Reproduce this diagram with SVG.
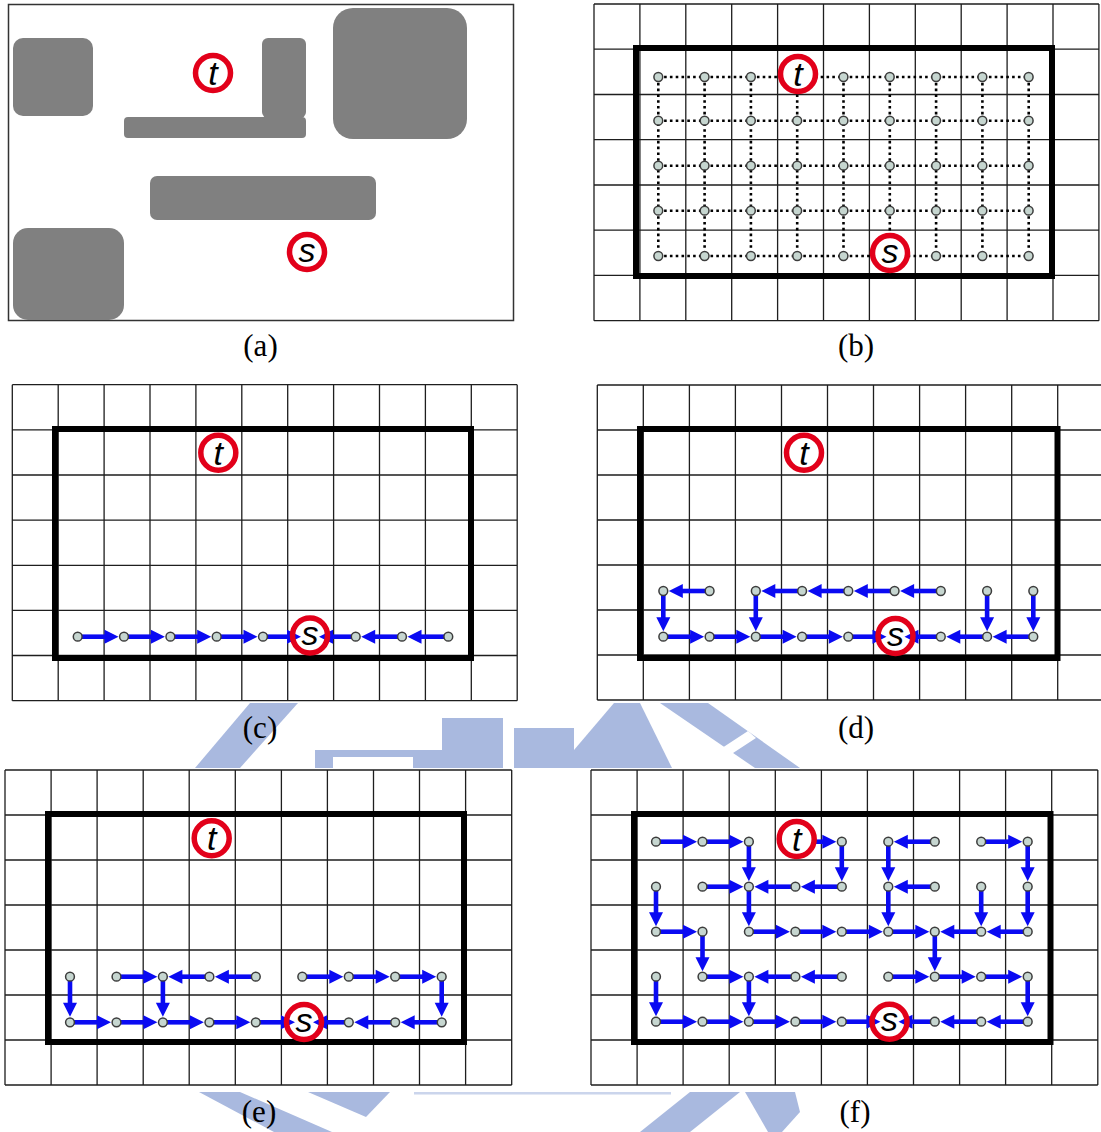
<svg xmlns="http://www.w3.org/2000/svg" xmlns:xlink="http://www.w3.org/1999/xlink" width="1101" height="1132" viewBox="0 0 1101 1132">
<style>
.grid{fill:none;stroke:#1e1e1e;stroke-width:1.3}
.bnd{fill:none;stroke:#000;stroke-width:6}
.obs{fill:#808080}
.dot{fill:none;stroke:#000;stroke-width:2.6;stroke-dasharray:2.6 3.2}
.e{fill:none;stroke:#0a0af2;stroke-width:4.6;marker-end:url(#ah)}
.ring{fill:#fff;stroke:#e2001a;stroke-width:5.5}
.ring2{fill:none;stroke:#e2001a;stroke-width:5.5}
.lt{font-family:"Liberation Sans",Arial,sans-serif;font-style:italic;font-size:34px;text-anchor:middle;fill:#000}
.cap{font-family:"Liberation Serif","Times New Roman",serif;font-size:31px;text-anchor:middle;fill:#000}
.wm{fill:#a9b9df}
.bg{fill:#fff}
</style>
<defs>
<marker id="ah" markerUnits="userSpaceOnUse" markerWidth="15" markerHeight="15" refX="1" refY="7" orient="auto" overflow="visible">
<path d="M0,0 L14,7 L0,14 z" fill="#0a0af2"/>
</marker>
<circle id="nd" r="4.4" fill="#c6d6d0" stroke="#3c3c3c" stroke-width="1.5"/>
</defs>
<rect width="1101" height="1132" fill="#fff"/>

<g id="watermark">
<polygon class="wm" points="195,768 250,703 298,703 240,768"/>
<rect class="wm" x="315" y="750" width="127" height="18"/>
<rect x="333" y="757" width="80" height="11" fill="#fff"/>
<rect class="wm" x="442" y="718" width="61" height="50"/>
<rect class="wm" x="514" y="728" width="60" height="40"/>
<polygon class="wm" points="574,768 574,750 614,703 640,703 672,768"/>
<polygon class="wm" points="660,703 708,703 800,768 755,768"/>
<polygon points="722,748 748,731 756,738 730,755" fill="#fff"/>
<polygon class="wm" points="199,1092 240,1092 332,1132 274,1132"/>
<polygon class="wm" points="308,1092 390,1092 366,1117"/>
<rect class="wm" x="414" y="1092" width="257" height="2.5" opacity="0.6"/>
<polygon class="wm" points="690,1092 740,1092 690,1132 640,1132"/>
<polygon class="wm" points="745,1092 795,1092 800,1112 782,1132 768,1132"/>
</g>

<!-- Panel (a) -->
<g id="panel-a">
<rect x="8.5" y="4.5" width="505" height="316" fill="#fff" stroke="#333" stroke-width="1.5"/>
<g id="a-obstacles">
<rect class="obs" x="13" y="38" width="80" height="78" rx="10"/>
<rect class="obs" x="262" y="38" width="44" height="80" rx="6"/>
<rect class="obs" x="124" y="117" width="182" height="21" rx="4"/>
<rect class="obs" x="333" y="8" width="134" height="131" rx="20"/>
<rect class="obs" x="150" y="176" width="226" height="44" rx="7"/>
<rect class="obs" x="13" y="228" width="111" height="92" rx="15"/>
</g>
<g id="a-t"><circle class="ring" cx="213" cy="73" r="17.5"/><text class="lt" x="213" y="85">t</text></g>
<g id="a-s"><circle class="ring" cx="307" cy="252" r="17.5"/><text class="lt" x="307" y="261.5">s</text></g>
</g>
<text class="cap" x="260.5" y="356">(a)</text>

<!-- Panel (b) -->
<g id="panel-b">
<path class="grid" d="M594,4V320.7M639.9,4V320.7M685.8,4V320.7M731.7,4V320.7M777.6,4V320.7M823.5,4V320.7M869.4,4V320.7M915.3,4V320.7M961.2,4V320.7M1007.1,4V320.7M1053,4V320.7M1098.9,4V320.7M594,4H1098.9M594,49.2H1098.9M594,94.5H1098.9M594,139.7H1098.9M594,185H1098.9M594,230.2H1098.9M594,275.4H1098.9M594,320.7H1098.9"/>
<rect class="bnd" x="636" y="48" width="416" height="228"/>
<g id="b-edges">
<path class="dot" d="M658.3,77H1028.7M658.3,120.7H1028.7M658.3,165.7H1028.7M658.3,210.7H1028.7M658.3,256H1028.7M658.3,77V256M704.6,77V256M750.9,77V256M797.2,77V256M843.5,77V256M889.8,77V256M936.1,77V256M982.4,77V256M1028.7,77V256"/>
</g>
<g id="b-nodes">
<use id="b-n00" href="#nd" x="658.3" y="77"/><use id="b-n01" href="#nd" x="704.6" y="77"/><use id="b-n02" href="#nd" x="750.9" y="77"/><use id="b-n04" href="#nd" x="843.5" y="77"/><use id="b-n05" href="#nd" x="889.8" y="77"/><use id="b-n06" href="#nd" x="936.1" y="77"/><use id="b-n07" href="#nd" x="982.4" y="77"/><use id="b-n08" href="#nd" x="1028.7" y="77"/>
<use id="b-n10" href="#nd" x="658.3" y="120.7"/><use id="b-n11" href="#nd" x="704.6" y="120.7"/><use id="b-n12" href="#nd" x="750.9" y="120.7"/><use id="b-n13" href="#nd" x="797.2" y="120.7"/><use id="b-n14" href="#nd" x="843.5" y="120.7"/><use id="b-n15" href="#nd" x="889.8" y="120.7"/><use id="b-n16" href="#nd" x="936.1" y="120.7"/><use id="b-n17" href="#nd" x="982.4" y="120.7"/><use id="b-n18" href="#nd" x="1028.7" y="120.7"/>
<use id="b-n20" href="#nd" x="658.3" y="165.7"/><use id="b-n21" href="#nd" x="704.6" y="165.7"/><use id="b-n22" href="#nd" x="750.9" y="165.7"/><use id="b-n23" href="#nd" x="797.2" y="165.7"/><use id="b-n24" href="#nd" x="843.5" y="165.7"/><use id="b-n25" href="#nd" x="889.8" y="165.7"/><use id="b-n26" href="#nd" x="936.1" y="165.7"/><use id="b-n27" href="#nd" x="982.4" y="165.7"/><use id="b-n28" href="#nd" x="1028.7" y="165.7"/>
<use id="b-n30" href="#nd" x="658.3" y="210.7"/><use id="b-n31" href="#nd" x="704.6" y="210.7"/><use id="b-n32" href="#nd" x="750.9" y="210.7"/><use id="b-n33" href="#nd" x="797.2" y="210.7"/><use id="b-n34" href="#nd" x="843.5" y="210.7"/><use id="b-n35" href="#nd" x="889.8" y="210.7"/><use id="b-n36" href="#nd" x="936.1" y="210.7"/><use id="b-n37" href="#nd" x="982.4" y="210.7"/><use id="b-n38" href="#nd" x="1028.7" y="210.7"/>
<use id="b-n40" href="#nd" x="658.3" y="256"/><use id="b-n41" href="#nd" x="704.6" y="256"/><use id="b-n42" href="#nd" x="750.9" y="256"/><use id="b-n43" href="#nd" x="797.2" y="256"/><use id="b-n44" href="#nd" x="843.5" y="256"/><use id="b-n46" href="#nd" x="936.1" y="256"/><use id="b-n47" href="#nd" x="982.4" y="256"/><use id="b-n48" href="#nd" x="1028.7" y="256"/>
</g>
<g id="b-t"><circle class="ring" cx="798" cy="74" r="17.5"/><text class="lt" x="798" y="86">t</text></g>
<g id="b-s"><circle class="ring" cx="890" cy="253" r="17.5"/><text class="lt" x="890" y="262.5">s</text></g>
</g>
<text class="cap" x="856" y="356">(b)</text>

<!-- Panel (c) -->
<g id="panel-c">
<rect class="bg" x="12.3" y="384.7" width="504.9" height="316"/>
<path class="grid" d="M12.3,384.7V700.7M58.2,384.7V700.7M104.1,384.7V700.7M150,384.7V700.7M195.9,384.7V700.7M241.8,384.7V700.7M287.7,384.7V700.7M333.6,384.7V700.7M379.5,384.7V700.7M425.4,384.7V700.7M471.3,384.7V700.7M517.2,384.7V700.7M12.3,384.7H517.2M12.3,429.8H517.2M12.3,475H517.2M12.3,520.1H517.2M12.3,565.3H517.2M12.3,610.4H517.2M12.3,655.5H517.2M12.3,700.7H517.2"/>
<rect class="bnd" x="55" y="429" width="416" height="229"/>
<g id="c-edges">
<path class="e" d="M77.7,636.7H105.5"/><path class="e" d="M124,636.7H151.9"/><path class="e" d="M170.4,636.7H198.2"/><path class="e" d="M216.7,636.7H244.5"/><path class="e" d="M263,636.7H288"/>
<path class="e" d="M448.3,636.7H420.5"/><path class="e" d="M402,636.7H374.2"/><path class="e" d="M355.7,636.7H332"/>
</g>
<g id="c-nodes">
<use id="c-n0" href="#nd" x="77.7" y="636.7"/><use id="c-n1" href="#nd" x="124" y="636.7"/><use id="c-n2" href="#nd" x="170.4" y="636.7"/><use id="c-n3" href="#nd" x="216.7" y="636.7"/><use id="c-n4" href="#nd" x="263" y="636.7"/><use id="c-n6" href="#nd" x="355.7" y="636.7"/><use id="c-n7" href="#nd" x="402" y="636.7"/><use id="c-n8" href="#nd" x="448.3" y="636.7"/>
</g>
<g id="c-t"><circle class="ring" cx="218.3" cy="452.7" r="17.5"/><text class="lt" x="218.3" y="464.7">t</text></g>
<g id="c-s"><circle class="ring2" cx="310" cy="635.5" r="17.5"/><text class="lt" x="310" y="645">s</text></g>
</g>
<text class="cap" x="260" y="738">(c)</text>

<!-- Panel (d) -->
<g id="panel-d">
<rect class="bg" x="597.3" y="385" width="506" height="315"/>
<path class="grid" d="M597.3,385V700M643.3,385V700M689.4,385V700M735.4,385V700M781.5,385V700M827.5,385V700M873.5,385V700M919.6,385V700M965.6,385V700M1011.7,385V700M1057.7,385V700M1103.7,385V700M597.3,385H1103.7M597.3,430H1103.7M597.3,475H1103.7M597.3,520H1103.7M597.3,565H1103.7M597.3,610H1103.7M597.3,655H1103.7M597.3,700H1103.7"/>
<rect class="bnd" x="640" y="429" width="417.5" height="229"/>
<g id="d-edges">
<path class="e" d="M709.6,591H681.8"/><path class="e" d="M663.3,591V618.2"/>
<path class="e" d="M940.8,591H913.1"/><path class="e" d="M894.6,591H866.8"/><path class="e" d="M848.3,591H820.6"/><path class="e" d="M802.1,591H774.3"/><path class="e" d="M755.8,591V618.2"/>
<path class="e" d="M987.1,591V618.2"/><path class="e" d="M1033.3,591V618.2"/>
<path class="e" d="M663.3,636.7H691.1"/><path class="e" d="M709.6,636.7H737.3"/><path class="e" d="M755.8,636.7H783.6"/><path class="e" d="M802.1,636.7H829.8"/><path class="e" d="M848.3,636.7H873.5"/>
<path class="e" d="M1033.3,636.7H1005.6"/><path class="e" d="M987.1,636.7H959.3"/><path class="e" d="M940.8,636.7H917.5"/>
</g>
<g id="d-nodes">
<use id="d-n00" href="#nd" x="663.3" y="591"/><use id="d-n01" href="#nd" x="709.6" y="591"/><use id="d-n02" href="#nd" x="755.8" y="591"/><use id="d-n03" href="#nd" x="802.1" y="591"/><use id="d-n04" href="#nd" x="848.3" y="591"/><use id="d-n05" href="#nd" x="894.6" y="591"/><use id="d-n06" href="#nd" x="940.8" y="591"/><use id="d-n07" href="#nd" x="987.1" y="591"/><use id="d-n08" href="#nd" x="1033.3" y="591"/>
<use id="d-n10" href="#nd" x="663.3" y="636.7"/><use id="d-n11" href="#nd" x="709.6" y="636.7"/><use id="d-n12" href="#nd" x="755.8" y="636.7"/><use id="d-n13" href="#nd" x="802.1" y="636.7"/><use id="d-n14" href="#nd" x="848.3" y="636.7"/><use id="d-n16" href="#nd" x="940.8" y="636.7"/><use id="d-n17" href="#nd" x="987.1" y="636.7"/><use id="d-n18" href="#nd" x="1033.3" y="636.7"/>
</g>
<g id="d-t"><circle class="ring" cx="804" cy="452.7" r="17.5"/><text class="lt" x="804" y="464.7">t</text></g>
<g id="d-s"><circle class="ring2" cx="895.5" cy="636" r="17.5"/><text class="lt" x="895.5" y="645.5">s</text></g>
</g>
<text class="cap" x="856" y="738">(d)</text>

<!-- Panel (e) -->
<g id="panel-e">
<rect class="bg" x="5" y="770" width="506.7" height="315"/>
<path class="grid" d="M5,770V1085M51.1,770V1085M97.1,770V1085M143.2,770V1085M189.2,770V1085M235.3,770V1085M281.4,770V1085M327.4,770V1085M373.5,770V1085M419.5,770V1085M465.6,770V1085M511.7,770V1085M5,770H511.7M5,815H511.7M5,860H511.7M5,905H511.7M5,950H511.7M5,995H511.7M5,1040H511.7M5,1085H511.7"/>
<rect class="bnd" x="48" y="814" width="416" height="228"/>
<g id="e-edges">
<path class="e" d="M70,976.7V1003.8"/><path class="e" d="M116.5,976.7H144.4"/><path class="e" d="M209.4,976.7H181.4"/><path class="e" d="M255.8,976.7H227.9"/><path class="e" d="M162.9,976.7V1003.8"/>
<path class="e" d="M302.3,976.7H330.3"/><path class="e" d="M348.8,976.7H376.7"/><path class="e" d="M395.2,976.7H423.2"/><path class="e" d="M441.7,976.7V1003.8"/>
<path class="e" d="M70,1022.3H98"/><path class="e" d="M116.5,1022.3H144.4"/><path class="e" d="M162.9,1022.3H190.9"/><path class="e" d="M209.4,1022.3H237.3"/><path class="e" d="M255.8,1022.3H282"/>
<path class="e" d="M441.7,1022.3H413.7"/><path class="e" d="M395.2,1022.3H367.3"/><path class="e" d="M348.8,1022.3H326"/>
</g>
<g id="e-nodes">
<use id="e-n00" href="#nd" x="70" y="976.7"/><use id="e-n01" href="#nd" x="116.5" y="976.7"/><use id="e-n02" href="#nd" x="162.9" y="976.7"/><use id="e-n03" href="#nd" x="209.4" y="976.7"/><use id="e-n04" href="#nd" x="255.8" y="976.7"/><use id="e-n05" href="#nd" x="302.3" y="976.7"/><use id="e-n06" href="#nd" x="348.8" y="976.7"/><use id="e-n07" href="#nd" x="395.2" y="976.7"/><use id="e-n08" href="#nd" x="441.7" y="976.7"/>
<use id="e-n10" href="#nd" x="70" y="1022.3"/><use id="e-n11" href="#nd" x="116.5" y="1022.3"/><use id="e-n12" href="#nd" x="162.9" y="1022.3"/><use id="e-n13" href="#nd" x="209.4" y="1022.3"/><use id="e-n14" href="#nd" x="255.8" y="1022.3"/><use id="e-n16" href="#nd" x="348.8" y="1022.3"/><use id="e-n17" href="#nd" x="395.2" y="1022.3"/><use id="e-n18" href="#nd" x="441.7" y="1022.3"/>
</g>
<g id="e-t"><circle class="ring" cx="211.7" cy="838.3" r="17.5"/><text class="lt" x="211.7" y="850.3">t</text></g>
<g id="e-s"><circle class="ring2" cx="304" cy="1022" r="17.5"/><text class="lt" x="304" y="1031.5">s</text></g>
</g>
<text class="cap" x="259" y="1122">(e)</text>

<!-- Panel (f) -->
<g id="panel-f">
<rect class="bg" x="591" y="770" width="506.8" height="315"/>
<path class="grid" d="M591,770V1085M637.1,770V1085M683.1,770V1085M729.2,770V1085M775.3,770V1085M821.4,770V1085M867.4,770V1085M913.5,770V1085M959.6,770V1085M1005.6,770V1085M1051.7,770V1085M1097.8,770V1085M591,770H1097.8M591,815H1097.8M591,860H1097.8M591,905H1097.8M591,950H1097.8M591,995H1097.8M591,1040H1097.8M591,1085H1097.8"/>
<rect class="bnd" x="634" y="814" width="416.5" height="228"/>
<g id="f-edges">
<path class="e" d="M656,841.7H684"/><path class="e" d="M702.5,841.7H730.4"/><path class="e" d="M748.9,841.7V868.2"/><path class="e" d="M815,841.7H823.3"/><path class="e" d="M841.8,841.7V868.2"/><path class="e" d="M934.8,841.7H906.8"/><path class="e" d="M888.3,841.7V868.2"/><path class="e" d="M981.2,841.7H1009.2"/><path class="e" d="M1027.7,841.7V868.2"/>
<path class="e" d="M702.5,886.7H730.4"/><path class="e" d="M795.4,886.7H767.4"/><path class="e" d="M841.8,886.7H813.9"/><path class="e" d="M748.9,886.7V913.2"/><path class="e" d="M656,886.7V913.2"/><path class="e" d="M934.8,886.7H906.8"/><path class="e" d="M888.3,886.7V913.2"/><path class="e" d="M981.2,886.7V913.2"/><path class="e" d="M1027.7,886.7V913.2"/>
<path class="e" d="M656,931.7H684"/><path class="e" d="M702.5,931.7V958.2"/><path class="e" d="M748.9,931.7H776.9"/><path class="e" d="M795.4,931.7H823.3"/><path class="e" d="M841.8,931.7H869.8"/><path class="e" d="M888.3,931.7H916.3"/><path class="e" d="M981.2,931.7H953.3"/><path class="e" d="M1027.7,931.7H999.7"/><path class="e" d="M934.8,931.7V958.2"/>
<path class="e" d="M656,976.7V1003.2"/><path class="e" d="M702.5,976.7H730.4"/><path class="e" d="M795.4,976.7H767.4"/><path class="e" d="M841.8,976.7H813.9"/><path class="e" d="M748.9,976.7V1003.2"/><path class="e" d="M888.3,976.7H916.3"/><path class="e" d="M934.8,976.7H962.7"/><path class="e" d="M981.2,976.7H1009.2"/><path class="e" d="M1027.7,976.7V1003.2"/>
<path class="e" d="M656,1021.7H684"/><path class="e" d="M702.5,1021.7H730.4"/><path class="e" d="M748.9,1021.7H776.9"/><path class="e" d="M795.4,1021.7H823.3"/><path class="e" d="M841.8,1021.7H867.5"/><path class="e" d="M1027.7,1021.7H999.7"/><path class="e" d="M981.2,1021.7H953.3"/><path class="e" d="M934.8,1021.7H911.5"/>
</g>
<g id="f-nodes">
<use id="f-n00" href="#nd" x="656" y="841.7"/><use id="f-n01" href="#nd" x="702.5" y="841.7"/><use id="f-n02" href="#nd" x="748.9" y="841.7"/><use id="f-n04" href="#nd" x="841.8" y="841.7"/><use id="f-n05" href="#nd" x="888.3" y="841.7"/><use id="f-n06" href="#nd" x="934.8" y="841.7"/><use id="f-n07" href="#nd" x="981.2" y="841.7"/><use id="f-n08" href="#nd" x="1027.7" y="841.7"/>
<use id="f-n10" href="#nd" x="656" y="886.7"/><use id="f-n11" href="#nd" x="702.5" y="886.7"/><use id="f-n12" href="#nd" x="748.9" y="886.7"/><use id="f-n13" href="#nd" x="795.4" y="886.7"/><use id="f-n14" href="#nd" x="841.8" y="886.7"/><use id="f-n15" href="#nd" x="888.3" y="886.7"/><use id="f-n16" href="#nd" x="934.8" y="886.7"/><use id="f-n17" href="#nd" x="981.2" y="886.7"/><use id="f-n18" href="#nd" x="1027.7" y="886.7"/>
<use id="f-n20" href="#nd" x="656" y="931.7"/><use id="f-n21" href="#nd" x="702.5" y="931.7"/><use id="f-n22" href="#nd" x="748.9" y="931.7"/><use id="f-n23" href="#nd" x="795.4" y="931.7"/><use id="f-n24" href="#nd" x="841.8" y="931.7"/><use id="f-n25" href="#nd" x="888.3" y="931.7"/><use id="f-n26" href="#nd" x="934.8" y="931.7"/><use id="f-n27" href="#nd" x="981.2" y="931.7"/><use id="f-n28" href="#nd" x="1027.7" y="931.7"/>
<use id="f-n30" href="#nd" x="656" y="976.7"/><use id="f-n31" href="#nd" x="702.5" y="976.7"/><use id="f-n32" href="#nd" x="748.9" y="976.7"/><use id="f-n33" href="#nd" x="795.4" y="976.7"/><use id="f-n34" href="#nd" x="841.8" y="976.7"/><use id="f-n35" href="#nd" x="888.3" y="976.7"/><use id="f-n36" href="#nd" x="934.8" y="976.7"/><use id="f-n37" href="#nd" x="981.2" y="976.7"/><use id="f-n38" href="#nd" x="1027.7" y="976.7"/>
<use id="f-n40" href="#nd" x="656" y="1021.7"/><use id="f-n41" href="#nd" x="702.5" y="1021.7"/><use id="f-n42" href="#nd" x="748.9" y="1021.7"/><use id="f-n43" href="#nd" x="795.4" y="1021.7"/><use id="f-n44" href="#nd" x="841.8" y="1021.7"/><use id="f-n46" href="#nd" x="934.8" y="1021.7"/><use id="f-n47" href="#nd" x="981.2" y="1021.7"/><use id="f-n48" href="#nd" x="1027.7" y="1021.7"/>
</g>
<g id="f-t"><circle class="ring" cx="796.7" cy="839" r="17.5"/><text class="lt" x="796.7" y="851">t</text></g>
<g id="f-s"><circle class="ring2" cx="889.5" cy="1021.7" r="17.5"/><text class="lt" x="889.5" y="1031.2">s</text></g>
</g>
<text class="cap" x="855" y="1122">(f)</text>
</svg>
